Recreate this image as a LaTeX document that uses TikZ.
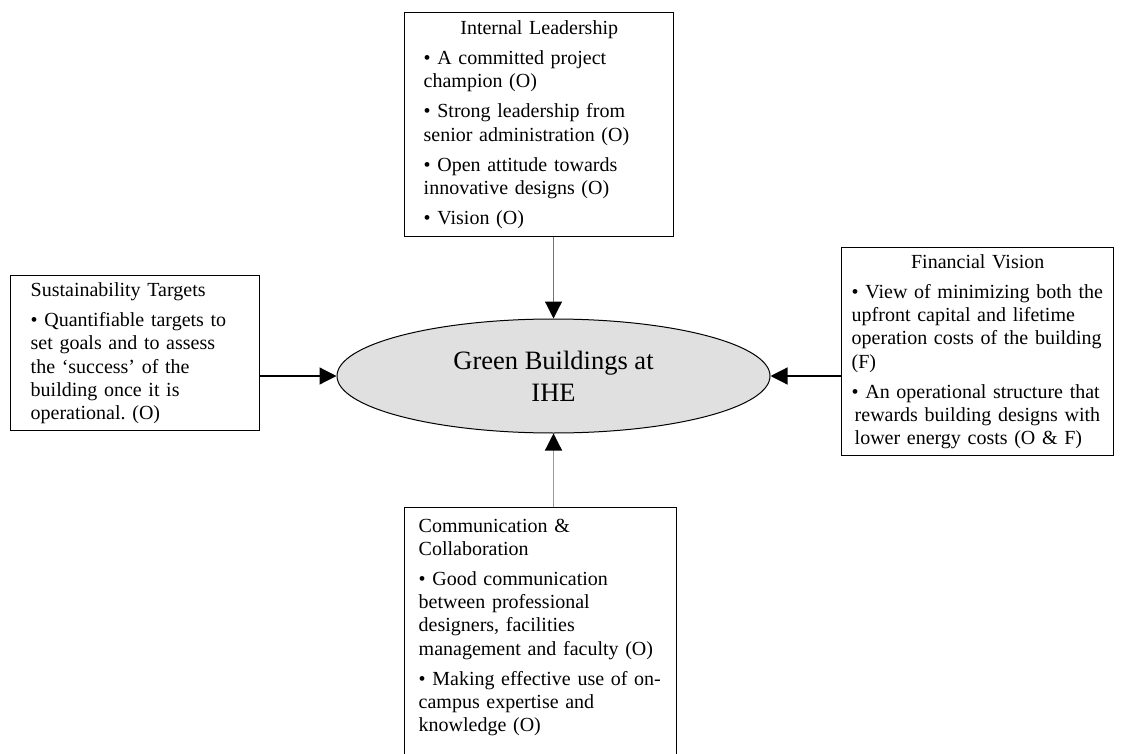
\documentclass[tikz,border=0pt]{standalone}
\usepackage{fontspec}
\setmainfont{Liberation Serif}
\usetikzlibrary{shapes.geometric,arrows.meta}
\frenchspacing
\begin{document}
\begin{tikzpicture}[x=0.5pt, y=-0.5pt,
    factor box/.style={rectangle, draw, line width=0.7pt, anchor=north west, align=left, font=\fontsize{10}{11.6}\selectfont},
    core node/.style={ellipse, draw, line width=0.5pt, fill=black!12, inner sep=0pt, align=center, font=\fontsize{13.25}{16}\selectfont},
    in arrow/.style={-{Triangle[width=8.5pt,length=8.5pt,color=black]}, line width=0.6pt}]

    \useasboundingbox (0,0) rectangle (1123,754);

    \node[core node, minimum width=216.5pt, minimum height=57pt] (ihe) at (553.5,376) {Green Buildings at\\IHE};

    \node[factor box, text width=115.5pt, inner xsep=9.5pt, minimum height=112pt] (lead) at (404,12) {{\centering Internal Leadership\par}\vspace{3.5pt}
        \textbullet\ A committed project\\ champion (O)\\[3.5pt]
        \textbullet\ Strong leadership from\\ senior administration (O)\\[3.5pt]
        \textbullet\ Open attitude towards\\ innovative designs (O)\\[3.5pt]
        \textbullet\ Vision (O)};
    \node[factor box, text width=104.5pt, inner xsep=10pt, minimum height=77.5pt] (targets) at (10,275) {Sustainability Targets\\[3.5pt]
        \textbullet\ Quantifiable targets to\\ set goals and to assess\\ the `success' of the\\ building once it is\\ operational. (O)};
    \node[factor box, text width=126pt, inner xsep=5pt, minimum height=103pt] (finance) at (841,247) {{\centering Financial Vision\par}\vspace{3.5pt}
        \textbullet\ View of minimizing both the\\ upfront capital and lifetime\\ operation costs of the building\\ (F)\\[3.5pt]
        \textbullet\ An operational structure that\\ \hspace*{1.5pt}rewards building designs with\\ \hspace*{1.5pt}lower energy costs (O \& F)};
    \node[factor box, text width=122pt, inner xsep=7pt, inner ysep=5.5pt] (comm) at (404,507) {Communication \&\\ Collaboration\\[3.5pt]
        \textbullet\ Good communication\\ between professional\\ designers, facilities\\ management and faculty (O)\\[3.5pt]
        \textbullet\ Making effective use of on-\\ campus expertise and\\ knowledge (O)\\[20pt]\mbox{}};

    \draw[in arrow, black!55] (ihe.north |- lead.south) -- (ihe.north);
    \draw[in arrow] (targets.east |- ihe.west) -- (ihe.west);
    \draw[in arrow] (finance.west |- ihe.east) -- (ihe.east);
    \draw[in arrow, black!40] (ihe.south |- comm.north) -- (ihe.south);
\end{tikzpicture}
\end{document}
